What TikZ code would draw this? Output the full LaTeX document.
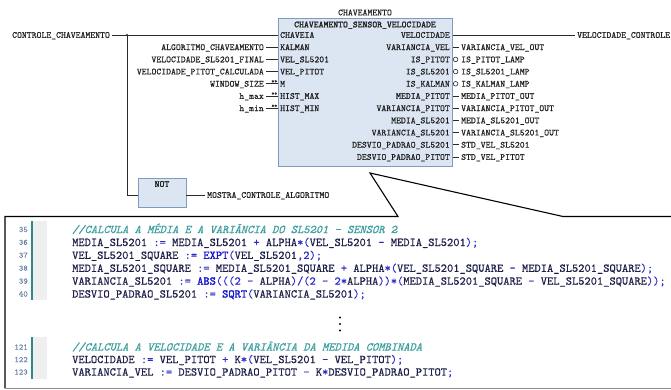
\documentclass[tikz,border=0pt]{standalone}
\usepackage{fontspec}
\usepackage{xcolor}
\newfontfamily\tmono{lmmono10-regular.otf}[FakeBold=0.45]
\newfontfamily\tmonob{lmmono10-regular.otf}[FakeBold=1.6]
\newfontfamily\cmono{lmmono10-regular.otf}[FakeBold=0.35]
\newfontfamily\cmonob{lmmono10-regular.otf}[FakeBold=1.4]
\newfontfamily\cmonoi{lmmono10-italic.otf}[FakeBold=0.3]
\definecolor{fbfill}{HTML}{DCE6F2}
\definecolor{fbdraw}{HTML}{7F9BBF}
\definecolor{wirec}{HTML}{2A2A2A}
\definecolor{idc}{HTML}{1E1E4A}
\definecolor{opc}{HTML}{2B2BC8}
\definecolor{kwc}{HTML}{1515D0}
\definecolor{cmc}{HTML}{3A9E9E}
\definecolor{lnc}{HTML}{6B86A8}
\definecolor{barc}{HTML}{2E8A8A}
\definecolor{gutc}{HTML}{EFEFEF}
\newcommand\tfnt{\fontsize{9.3}{10}\selectfont\tmono}
\newcommand\tbold{\tmonob}
\newcommand\cfnt{\fontsize{11.9}{13}\selectfont\cmono}
\newcommand\lfnt{\fontsize{8.5}{9}\selectfont\tmono}
\newcommand\op[1]{{\color{opc}#1}}
\newcommand\kwd[1]{{\color{kwc}\cmonob #1}}
\newcommand\cmt[1]{{\cmonoi\color{cmc}#1}}
\begin{document}
\begin{tikzpicture}[x=1pt,y=-1pt,
  lbl/.style={font=\tfnt, inner sep=0pt, text height=5.7pt, text depth=0pt, text=black!88},
  fbox/.style={draw=fbdraw, fill=fbfill, line width=0.8pt, inner sep=0pt},
  wire/.style={draw=wirec, line width=0.7pt},
  star/.style={font=\fontsize{5.5}{5.5}\selectfont\tmono, inner sep=0pt, text=black!85},
  code/.style={font=\cfnt, inner sep=0pt, anchor=base west, text=idc},
  lno/.style={font=\lfnt, inner sep=0pt, anchor=base east, text=lnc}]
\fill[white] (0,0) rectangle (671,389);
\useasboundingbox (0,0) rectangle (671,389);

% ---------- function block ----------
\node[fbox, minimum width=174pt, minimum height=148pt, anchor=north west] (fb) at (278,18) {};
\node[lbl] (fbname) at (365,12.5) {CHAVEAMENTO};
\node[lbl] (fbtype) at (365,24.5) {\tbold CHAVEAMENTO\_SENSOR\_VELOCIDADE};

% first input row
\node[lbl, anchor=west] (in0) at (280,35) {CHAVEIA};
\node[lbl, anchor=west] (ex0) at (12,35) {CONTROLE\_CHAVEAMENTO};
\draw[wire] ([xshift=2pt]ex0.east) -- (ex0.east -| fb.west);
\coordinate (j) at (127,35);
\fill[wirec] (j) circle (1.1pt);

% other inputs
\foreach \i/\pin/\ext/\st in {1/KALMAN/ALGORITMO\_CHAVEAMENTO/0,
  2/VEL\_SL5201/VELOCIDADE\_SL5201\_FINAL/0,
  3/VEL\_PITOT/VELOCIDADE\_PITOT\_CALCULADA/0,
  4/M/WINDOW\_SIZE/1, 5/HIST\_MAX/h\_max/1, 6/HIST\_MIN/h\_min/1}{
  \node[lbl, anchor=west] (in\i) at (280,35+12.2*\i) {\pin};
  \node[lbl, anchor=east] (ex\i) at (264,35+12.2*\i) {\ext};
  \draw[wire] ([xshift=2pt]ex\i.east) -- (ex\i.east -| fb.west);
  \ifnum\st=1 \node[star] (st\i) at (274.3,35+12.2*\i-2.2) {**}; \fi
}

% first output row
\node[lbl, anchor=east] (out0) at (450,35) {VELOCIDADE};
\node[lbl, anchor=west] (ox0) at (577,35) {VELOCIDADE\_CONTROLE};
\draw[wire] (fb.east |- ox0) -- ([xshift=-2pt]ox0.west);

% other outputs
\foreach \i/\pin/\ext/\ng in {1/VARIANCIA\_VEL/VARIANCIA\_VEL\_OUT/0,
  2/IS\_PITOT/IS\_PITOT\_LAMP/1, 3/IS\_SL5201/IS\_SL5201\_LAMP/1,
  4/IS\_KALMAN/IS\_KALMAN\_LAMP/1, 5/MEDIA\_PITOT/MEDIA\_PITOT\_OUT/0,
  6/VARIANCIA\_PITOT/VARIANCIA\_PITOT\_OUT/0, 7/MEDIA\_SL5201/MEDIA\_SL5201\_OUT/0,
  8/VARIANCIA\_SL5201/VARIANCIA\_SL5201\_OUT/0, 9/DESVIO\_PADRAO\_SL5201/STD\_VEL\_SL5201/0,
  10/DESVIO\_PADRAO\_PITOT/STD\_VEL\_PITOT/0}{
  \node[lbl, anchor=east] (out\i) at (450,35+12.2*\i) {\pin};
  \node[lbl, anchor=west] (ox\i) at (461,35+12.2*\i) {\ext};
  \ifnum\ng=1
    \draw[wire, fill=white, line width=0.6pt] ([xshift=2.8pt]fb.east |- ox\i) circle (2.3pt);
  \else
    \draw[wire] (fb.east |- ox\i) -- ([xshift=-2pt]ox\i.west);
  \fi
}

% ---------- NOT block ----------
\node[fbox, minimum width=48pt, minimum height=29pt, anchor=north west] (notb) at (138,178) {};
\node[lbl] (nottxt) at (162,184) {\tbold NOT};
\coordinate (nin) at (138,195);
\coordinate (nout) at (186,195);
\node[lbl, anchor=west] (mostra) at (207,195) {MOSTRA\_CONTROLE\_ALGORITMO};
\draw[wire] (j) |- (nin);
\draw[wire] (nout) -- ([xshift=-2pt]mostra.west);

% ---------- code callout ----------
\fill[gutc] (33,221) rectangle (47,300);
\fill[gutc] (33,337) rectangle (47,379);
\fill[barc] (30.5,221) rectangle (32.5,300);
\fill[barc] (30.5,337) rectangle (32.5,379);

\coordinate (apex) at (370,173);
\coordinate (cl) at (398,216.5);
\coordinate (cr) at (563,216.5);
\draw[black, line width=1.1pt, line join=miter] (672,216.5) -- (cr) -- (apex) -- (cl) -- (5,216.5) -- (5,388.3);
\draw[black!45, line width=1pt] (5,388.3) -- (672,388.3);

\foreach \n/\yy in {35/229.5, 36/242.4, 37/255.3, 38/268.2, 39/281.1, 40/294, 121/347, 122/359.5, 123/372}{
  \node[lno] (ln\n) at (28,\yy+2.6) {\n};
}
\node[code] (c35) at (72,229.5+3.6) {\cmt{//CALCULA A MÉDIA E A VARIÂNCIA DO SL5201 - SENSOR 2}};
\node[code] (c36) at (72,242.4+3.6) {MEDIA\_SL5201 \op{:=} MEDIA\_SL5201 \op{+} ALPHA\op{*(}VEL\_SL5201 \op{-} MEDIA\_SL5201\op{);}};
\node[code] (c37) at (72,255.3+3.6) {VEL\_SL5201\_SQUARE \op{:=} \kwd{EXPT}\op{(}VEL\_SL5201\op{,2);}};
\node[code] (c38) at (72,268.2+3.6) {MEDIA\_SL5201\_SQUARE \op{:=} MEDIA\_SL5201\_SQUARE \op{+} ALPHA\op{*(}VEL\_SL5201\_SQUARE \op{-} MEDIA\_SL5201\_SQUARE\op{);}};
\node[code] (c39) at (72,281.1+3.6) {VARIANCIA\_SL5201 \op{:=} \kwd{ABS}\op{(((2 -} ALPHA\op{)/(2 - 2*}ALPHA\op{))*(}MEDIA\_SL5201\_SQUARE \op{-} VEL\_SL5201\_SQUARE\op{));}};
\node[code] (c40) at (72,294+3.6) {DESVIO\_PADRAO\_SL5201 \op{:=} \kwd{SQRT}\op{(}VARIANCIA\_SL5201\op{);}};
\node[code] (c121) at (72,347+3.6) {\cmt{//CALCULA A VELOCIDADE E A VARIÂNCIA DA MEDIDA COMBINADA}};
\node[code] (c122) at (72,359.5+3.6) {VELOCIDADE \op{:=} VEL\_PITOT \op{+} K\op{*(}VEL\_SL5201 \op{-} VEL\_PITOT\op{);}};
\node[code] (c123) at (72,372+3.6) {VARIANCIA\_VEL \op{:=} DESVIO\_PADRAO\_PITOT \op{-} K\op{*}DESVIO\_PADRAO\_PITOT\op{;}};

% vertical ellipsis
\foreach \k/\yy in {1/317.5, 2/324, 3/330.5}{
  \fill[black] (340,\yy) circle (1.1pt);
}
\end{tikzpicture}
\end{document}
